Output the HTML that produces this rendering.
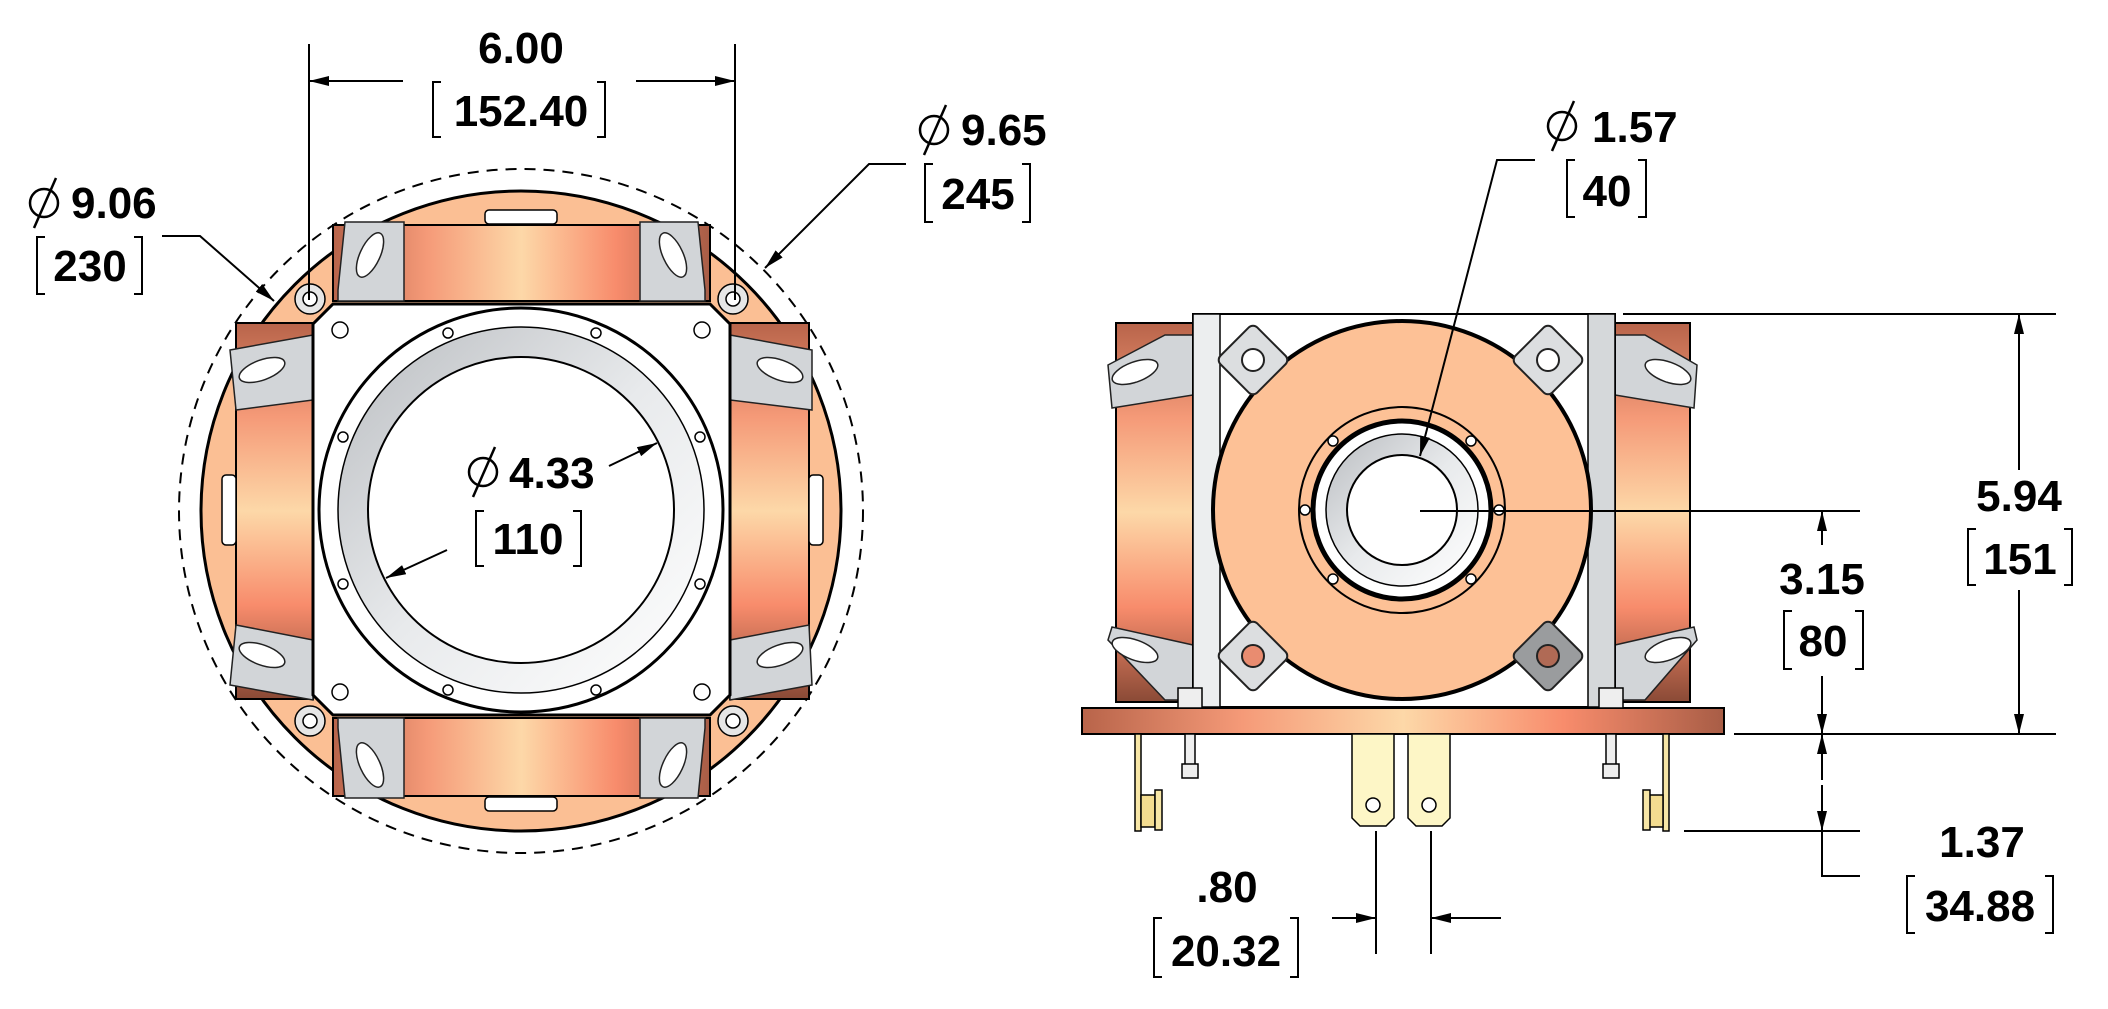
<!DOCTYPE html>
<html><head><meta charset="utf-8"><style>
html,body{margin:0;padding:0;background:#fff;}
svg{display:block;}
text{font-family:"Liberation Sans",sans-serif;font-weight:bold;font-size:44px;fill:#000;}
</style></head><body>
<svg width="2108" height="1009" viewBox="0 0 2108 1009" xmlns="http://www.w3.org/2000/svg">
<defs>
<linearGradient id="ch" x1="0" x2="1" y1="0" y2="0">
<stop offset="0" stop-color="#b8644a"/><stop offset="0.25" stop-color="#f59a78"/><stop offset="0.5" stop-color="#fdd8a8"/><stop offset="0.75" stop-color="#f88c6c"/><stop offset="1" stop-color="#a85d46"/></linearGradient>
<linearGradient id="cv" x1="0" x2="0" y1="0" y2="1">
<stop offset="0" stop-color="#b8644a"/><stop offset="0.25" stop-color="#f59a78"/><stop offset="0.5" stop-color="#fdd8a8"/><stop offset="0.75" stop-color="#f88c6c"/><stop offset="1" stop-color="#8a4a36"/></linearGradient>
<linearGradient id="gr" x1="0" x2="1" y1="0" y2="1">
<stop offset="0" stop-color="#b9bcc0"/><stop offset="0.5" stop-color="#e8eaec"/><stop offset="1" stop-color="#ffffff"/></linearGradient>
<marker id="ar" viewBox="0 0 20 10" refX="20" refY="5" markerWidth="20" markerHeight="10" markerUnits="userSpaceOnUse" orient="auto"><path d="M0,0 L20,5 L0,10 z" fill="#000"/></marker>
</defs>

<circle cx="521" cy="511" r="342" fill="none" stroke="#000" stroke-width="2" stroke-dasharray="11,8"/>
<circle cx="521" cy="511" r="320" fill="#fbbf94" stroke="#000" stroke-width="3"/>
<rect x="333" y="225" width="377" height="76" fill="url(#ch)" stroke="#000" stroke-width="2"/>
<rect x="333" y="718" width="377" height="78" fill="url(#ch)" stroke="#000" stroke-width="2"/>
<rect x="236" y="323" width="77" height="376" fill="url(#cv)" stroke="#000" stroke-width="2"/>
<rect x="730" y="323" width="79" height="376" fill="url(#cv)" stroke="#000" stroke-width="2"/>
<g fill="#d2d5d8" stroke="#222" stroke-width="1.5">
<polygon points="345,222 404,222 404,301 338,301 338,290"/><ellipse cx="370" cy="255" rx="10" ry="24" fill="#fff" transform="rotate(25 370 255)"/>
<polygon points="640,222 698,222 705,290 705,301 640,301"/><ellipse cx="673" cy="255" rx="10" ry="24" fill="#fff" transform="rotate(-25 673 255)"/>
<polygon points="338,718 404,718 404,798 345,798 338,728"/><ellipse cx="370" cy="765" rx="10" ry="24" fill="#fff" transform="rotate(-25 370 765)"/>
<polygon points="640,718 705,718 705,728 698,798 640,798"/><ellipse cx="673" cy="765" rx="10" ry="24" fill="#fff" transform="rotate(25 673 765)"/>
<polygon points="230,350 313,335 313,400 236,410"/><ellipse cx="262" cy="370" rx="24" ry="10" fill="#fff" transform="rotate(-20 262 370)"/>
<polygon points="730,335 812,350 812,410 730,400"/><ellipse cx="780" cy="370" rx="24" ry="10" fill="#fff" transform="rotate(20 780 370)"/>
<polygon points="236,625 313,640 313,700 230,685" /><ellipse cx="262" cy="655" rx="24" ry="10" fill="#fff" transform="rotate(20 262 655)"/>
<polygon points="730,640 809,625 812,685 730,700"/><ellipse cx="780" cy="655" rx="24" ry="10" fill="#fff" transform="rotate(-20 780 655)"/>
</g>
<polygon points="333,304 710,304 730,324 730,695 710,715 333,715 313,695 313,324" fill="#fff" stroke="#000" stroke-width="3"/>
<circle cx="521" cy="510" r="202" fill="#fff" stroke="#000" stroke-width="3"/>
<circle cx="521" cy="510" r="183" fill="url(#gr)" stroke="#000" stroke-width="1.5"/>
<circle cx="521" cy="510" r="153" fill="#fff" stroke="#000" stroke-width="2"/>
<g fill="#fff" stroke="#000" stroke-width="1.5">
<circle cx="340" cy="330" r="8"/><circle cx="702" cy="330" r="8"/><circle cx="340" cy="692" r="8"/><circle cx="702" cy="692" r="8"/>
<circle cx="448" cy="333" r="5"/><circle cx="596" cy="333" r="5"/><circle cx="343" cy="437" r="5"/><circle cx="700" cy="437" r="5"/>
<circle cx="343" cy="584" r="5"/><circle cx="700" cy="584" r="5"/><circle cx="448" cy="690" r="5"/><circle cx="596" cy="690" r="5"/>
<circle cx="310" cy="299" r="15" fill="#e6e6e6"/><circle cx="310" cy="299" r="7"/>
<circle cx="733" cy="299" r="15" fill="#e6e6e6"/><circle cx="733" cy="299" r="7"/>
<circle cx="310" cy="721" r="15" fill="#e6e6e6"/><circle cx="310" cy="721" r="7"/>
<circle cx="733" cy="721" r="15" fill="#e6e6e6"/><circle cx="733" cy="721" r="7"/>
<rect x="485" y="210" width="72" height="14" rx="4"/><rect x="485" y="797" width="72" height="14" rx="4"/>
<rect x="222" y="475" width="14" height="70" rx="4"/><rect x="809" y="475" width="14" height="70" rx="4"/>
</g>

<g stroke="#000" stroke-width="2" fill="none">
<line x1="309" y1="44" x2="309" y2="300"/><line x1="735" y1="44" x2="735" y2="300"/>
<line x1="403" y1="81" x2="309" y2="81" marker-end="url(#ar)"/>
<line x1="636" y1="81" x2="735" y2="81" marker-end="url(#ar)"/>
<polyline points="162,236 200,236 274,301" marker-end="url(#ar)"/>
<polyline points="906,164 869,164 765,268" marker-end="url(#ar)"/>
<line x1="609" y1="466" x2="657" y2="443" marker-end="url(#ar)"/>
<line x1="447" y1="550" x2="386" y2="578" marker-end="url(#ar)"/>
</g>
<text x="521" y="63" text-anchor="middle">6.00</text>
<text x="521" y="126" text-anchor="middle">152.40</text>
<path d="M441,82 h-8 v55 h8 M597,82 h8 v55 h-8" stroke="#000" stroke-width="2" fill="none"/>
<text x="71" y="218">9.06</text>
<text x="90" y="281" text-anchor="middle">230</text>
<path d="M45,237 h-8 v57 h8 M134,237 h8 v57 h-8" stroke="#000" stroke-width="2" fill="none"/>
<text x="961" y="145">9.65</text>
<text x="978" y="209" text-anchor="middle">245</text>
<path d="M933,164 h-8 v58 h8 M1022,164 h8 v58 h-8" stroke="#000" stroke-width="2" fill="none"/>
<text x="509" y="488">4.33</text>
<text x="528" y="554" text-anchor="middle">110</text>
<path d="M484,511 h-8 v55 h8 M573,511 h8 v55 h-8" stroke="#000" stroke-width="2" fill="none"/>
<g stroke="#000" stroke-width="2.5" fill="none">
<circle cx="44" cy="203" r="14"/><line x1="34" y1="228" x2="56" y2="178"/>
<circle cx="934" cy="130" r="14"/><line x1="924" y1="155" x2="946" y2="105"/>
<circle cx="483" cy="472" r="14"/><line x1="473" y1="497" x2="495" y2="447"/>
<circle cx="1562" cy="126" r="14"/><line x1="1552" y1="151" x2="1574" y2="101"/>
</g>

<rect x="1116" y="323" width="77" height="379" fill="url(#cv)" stroke="#000" stroke-width="2"/>
<rect x="1615" y="323" width="75" height="379" fill="url(#cv)" stroke="#000" stroke-width="2"/>
<g fill="#d2d5d8" stroke="#222" stroke-width="1.5">
<polygon points="1108,365 1165,335 1193,335 1193,395 1112,408"/><ellipse cx="1135" cy="372" rx="24" ry="10" fill="#fff" transform="rotate(-20 1135 372)"/>
<polygon points="1615,335 1645,335 1697,365 1694,408 1615,395"/><ellipse cx="1668" cy="372" rx="24" ry="10" fill="#fff" transform="rotate(20 1668 372)"/>
<polygon points="1108,640 1112,627 1193,645 1193,700 1165,700"/><ellipse cx="1135" cy="650" rx="24" ry="10" fill="#fff" transform="rotate(20 1135 650)"/>
<polygon points="1615,645 1694,627 1697,640 1645,700 1615,700"/><ellipse cx="1668" cy="650" rx="24" ry="10" fill="#fff" transform="rotate(-20 1668 650)"/>
</g>
<rect x="1193" y="314" width="422" height="393" fill="#fff" stroke="#000" stroke-width="2"/>
<rect x="1193" y="314" width="27" height="393" fill="#eceeef" stroke="#000" stroke-width="1.5"/>
<rect x="1588" y="314" width="27" height="393" fill="#d5d8da" stroke="#000" stroke-width="1.5"/>
<circle cx="1402" cy="510" r="189" fill="#fdc196" stroke="#000" stroke-width="4"/>
<circle cx="1402" cy="510" r="103" fill="none" stroke="#000" stroke-width="2"/>
<circle cx="1402" cy="510" r="89" fill="#fff" stroke="#000" stroke-width="5"/>
<circle cx="1402" cy="510" r="76" fill="url(#gr)" stroke="#000" stroke-width="1.5"/>
<circle cx="1402" cy="510" r="55" fill="#fff" stroke="#000" stroke-width="2"/>
<g fill="#fff" stroke="#000" stroke-width="1.5">
<circle cx="1305" cy="510" r="5"/><circle cx="1499" cy="510" r="5"/>
<circle cx="1333" cy="441" r="5"/><circle cx="1471" cy="441" r="5"/><circle cx="1333" cy="579" r="5"/><circle cx="1471" cy="579" r="5"/>
</g>
<g stroke="#222" stroke-width="2">
<rect x="1227" y="334" width="52" height="52" rx="6" fill="#dcdee0" transform="rotate(45 1253 360)"/><circle cx="1253" cy="360" r="11" fill="#fff"/>
<rect x="1522" y="334" width="52" height="52" rx="6" fill="#dcdee0" transform="rotate(45 1548 360)"/><circle cx="1548" cy="360" r="11" fill="#fff"/>
<rect x="1227" y="630" width="52" height="52" rx="6" fill="#dcdee0" transform="rotate(45 1253 656)"/><circle cx="1253" cy="656" r="11" fill="#e98c70"/>
<rect x="1522" y="630" width="52" height="52" rx="6" fill="#9a9c9e" transform="rotate(45 1548 656)"/><circle cx="1548" cy="656" r="11" fill="#b06a55"/>
</g>
<rect x="1082" y="708" width="642" height="26" fill="url(#ch)" stroke="#000" stroke-width="2"/>
<g stroke="#000" stroke-width="1.5">
<rect x="1178" y="688" width="24" height="20" fill="#eee"/><rect x="1599" y="688" width="24" height="20" fill="#eee"/>
<rect x="1185" y="734" width="10" height="32" fill="#eee"/><rect x="1182" y="764" width="16" height="14" fill="#eee"/>
<rect x="1606" y="734" width="10" height="32" fill="#eee"/><rect x="1603" y="764" width="16" height="14" fill="#eee"/>
<path d="M1352,734 h42 v84 l-8,8 h-26 l-8,-8 z" fill="#fdf6c6"/><circle cx="1373" cy="805" r="7" fill="#fff"/>
<path d="M1408,734 h42 v84 l-8,8 h-26 l-8,-8 z" fill="#fdf6c6"/><circle cx="1429" cy="805" r="7" fill="#fff"/>
<rect x="1135" y="734" width="6" height="97" fill="#f7e6a6"/><rect x="1141" y="795" width="14" height="32" fill="#f3dc90"/><rect x="1155" y="790" width="7" height="40" fill="#f7e6a6"/>
<rect x="1663" y="734" width="6" height="97" fill="#f7e6a6"/><rect x="1649" y="795" width="14" height="32" fill="#f3dc90"/><rect x="1643" y="790" width="7" height="40" fill="#f7e6a6"/>
</g>

<g stroke="#000" stroke-width="2" fill="none">
<line x1="1623" y1="314" x2="2056" y2="314"/>
<line x1="1734" y1="734" x2="2056" y2="734"/>
<line x1="2019" y1="470" x2="2019" y2="314" marker-end="url(#ar)"/>
<line x1="2019" y1="590" x2="2019" y2="734" marker-end="url(#ar)"/>
<line x1="1420" y1="511" x2="1860" y2="511"/>
<line x1="1822" y1="545" x2="1822" y2="511" marker-end="url(#ar)"/>
<line x1="1822" y1="676" x2="1822" y2="734" marker-end="url(#ar)"/>
<line x1="1822" y1="780" x2="1822" y2="734" marker-end="url(#ar)"/>
<line x1="1822" y1="785" x2="1822" y2="831" marker-end="url(#ar)"/>
<polyline points="1822,831 1822,876 1860,876"/>
<line x1="1684" y1="831" x2="1860" y2="831"/>
<line x1="1376" y1="831" x2="1376" y2="954"/><line x1="1431" y1="831" x2="1431" y2="954"/>
<line x1="1332" y1="918" x2="1376" y2="918" marker-end="url(#ar)"/>
<line x1="1501" y1="918" x2="1431" y2="918" marker-end="url(#ar)"/>
<polyline points="1535,160 1497,160 1420,456" marker-end="url(#ar)"/>
</g>
<text x="2019" y="511" text-anchor="middle">5.94</text>
<text x="2020" y="574" text-anchor="middle">151</text>
<path d="M1976,529 h-8 v56 h8 M2064,529 h8 v56 h-8" stroke="#000" stroke-width="2" fill="none"/>
<text x="1822" y="594" text-anchor="middle">3.15</text>
<text x="1823" y="656" text-anchor="middle">80</text>
<path d="M1792,611 h-8 v58 h8 M1855,611 h8 v58 h-8" stroke="#000" stroke-width="2" fill="none"/>
<text x="1982" y="857" text-anchor="middle">1.37</text>
<text x="1980" y="921" text-anchor="middle">34.88</text>
<path d="M1915,876 h-8 v57 h8 M2045,876 h8 v57 h-8" stroke="#000" stroke-width="2" fill="none"/>
<text x="1227" y="902" text-anchor="middle">.80</text>
<text x="1226" y="966" text-anchor="middle">20.32</text>
<path d="M1162,918 h-8 v59 h8 M1290,918 h8 v59 h-8" stroke="#000" stroke-width="2" fill="none"/>
<text x="1592" y="142">1.57</text>
<text x="1607" y="206" text-anchor="middle">40</text>
<path d="M1575,160 h-8 v57 h8 M1638,160 h8 v57 h-8" stroke="#000" stroke-width="2" fill="none"/>
</svg>
</body></html>
